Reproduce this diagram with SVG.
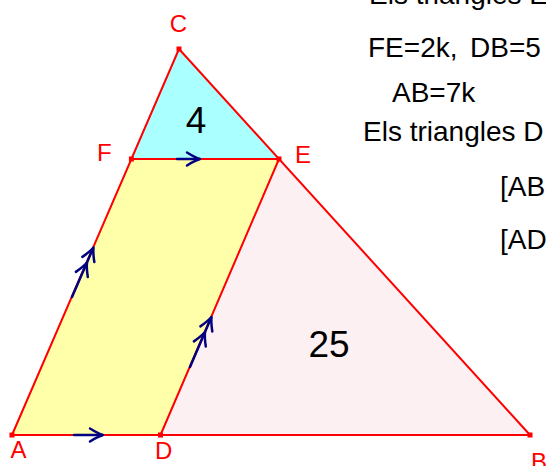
<svg xmlns="http://www.w3.org/2000/svg" xmlns:xlink="http://www.w3.org/1999/xlink" width="546" height="466" viewBox="0 0 546 466">
<style>
.seg{stroke:#ff0000;stroke-width:2;fill:none;stroke-linecap:round}
.pt{fill:#ff0000}
.lbl{font-family:"Liberation Sans",Arial,sans-serif;font-size:24px;fill:#ff0000}
.txt{font-family:"Liberation Sans",Arial,sans-serif;font-size:28px;fill:#000000}
.num{font-family:"Liberation Sans",Arial,sans-serif;font-size:37px;fill:#000000;text-anchor:middle}
.par{stroke:#000080;stroke-width:2.5;fill:none;stroke-linecap:round;stroke-linejoin:round}
</style>
<defs>
<path id="chev" d="M-13,-6.5 Q-5,-1.5 0,0 Q-5,1.5 -13,6.5" class="par"/>
</defs>
<g id="regions">
<polygon id="triCFE" points="179,49 131.4,159 279,159" fill="#aaffff"/>
<polygon id="parAFED" points="12,435 131.4,159 279,159 160.5,435" fill="#ffffaa"/>
<polygon id="triDEB" points="160.5,435 279,159 530,435" fill="#fdf0f3"/>
</g>
<g id="connectors">
<line class="seg" x1="12" y1="435" x2="530" y2="435"/>
<line class="seg" x1="12" y1="435" x2="179" y2="49"/>
<line class="seg" x1="179" y1="49" x2="530" y2="435"/>
<line class="seg" x1="131.4" y1="159" x2="279" y2="159"/>
<line class="seg" x1="160.5" y1="435" x2="279" y2="159"/>
<g id="parallel-marks">
<line class="par" x1="177" y1="159" x2="199" y2="159"/>
<use xlink:href="#chev" transform="translate(200,159)"/>
<line class="par" x1="74" y1="435" x2="102" y2="435"/>
<use xlink:href="#chev" transform="translate(103,435)"/>
<line class="par" x1="72" y1="297" x2="93" y2="248.5"/>
<use xlink:href="#chev" transform="translate(93.5,247.5) rotate(-66.6)"/>
<use xlink:href="#chev" transform="translate(87,262.5) rotate(-66.6)"/>
<line class="par" x1="190" y1="367" x2="211" y2="318"/>
<use xlink:href="#chev" transform="translate(211.5,317) rotate(-66.6)"/>
<use xlink:href="#chev" transform="translate(205,332) rotate(-66.6)"/>
</g>
</g>
<g id="node-C"><rect class="pt" x="176.5" y="46.5" width="5" height="5"/><text class="lbl" x="178.5" y="32" text-anchor="middle">C</text></g>
<g id="node-F"><rect class="pt" x="128.9" y="156.5" width="5" height="5"/><text class="lbl" x="97" y="161">F</text></g>
<g id="node-E"><rect class="pt" x="276.5" y="156.5" width="5" height="5"/><text class="lbl" x="295" y="163">E</text></g>
<g id="node-A"><rect class="pt" x="9.5" y="432.5" width="5" height="5"/><text class="lbl" x="18.5" y="458" text-anchor="middle">A</text></g>
<g id="node-D"><rect class="pt" x="158" y="432.5" width="5" height="5"/><text class="lbl" x="155" y="459">D</text></g>
<g id="node-B"><rect class="pt" x="527.5" y="432.5" width="5" height="5"/><text class="lbl" x="531" y="470">B</text></g>
<g id="area-labels">
<text class="num" x="196" y="133">4</text>
<text class="num" x="329" y="357">25</text>
</g>
<g id="notes">
<text class="txt" x="369" y="4">Els triangles E</text>
<text class="txt" x="368" y="57">FE=2k,<tspan x="470">DB=5</tspan></text>
<text class="txt" x="392" y="102">AB=7k</text>
<text class="txt" x="363" y="141">Els triangles D</text>
<text class="txt" x="500" y="196">[ABC</text>
<text class="txt" x="500" y="249">[AD</text>
</g>
</svg>
